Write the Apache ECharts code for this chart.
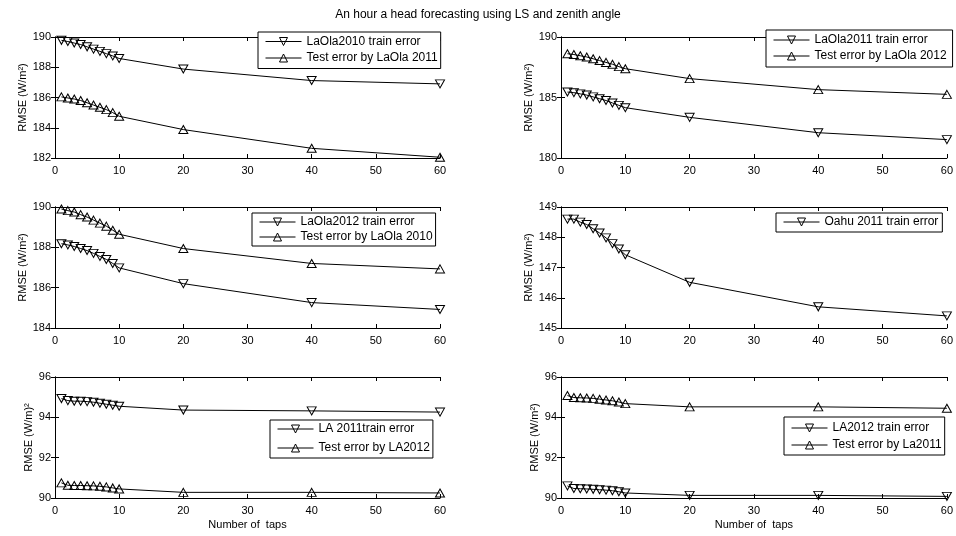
<!DOCTYPE html>
<html><head><meta charset="utf-8">
<script src="https://cdn.jsdelivr.net/npm/echarts@6/dist/echarts.min.js"></script>
<style>html,body{margin:0;padding:0;background:#fff}#c{width:956px;height:536px}</style>
</head><body><div id="c"></div>
<script>
// ---- data ----
const taps = [1,2,3,4,5,6,7,8,9,10,20,40,60];
const xTickMin = 0, xTickMax = 60, xTickStep = 10;

const laola2010Train = [189.78,189.7,189.6,189.5,189.35,189.2,189.05,188.9,188.75,188.58,187.88,187.12,186.9];
const laola2011Test  = [186.04,185.97,185.9,185.8,185.65,185.5,185.35,185.2,185.0,184.76,183.88,182.64,182.05];

const laola2011Train = [185.45,185.4,185.3,185.2,185.05,184.9,184.75,184.55,184.35,184.16,183.36,182.09,181.52];
const laola2012Test  = [188.62,188.55,188.45,188.35,188.2,188.05,187.9,187.75,187.55,187.38,186.56,185.65,185.26];

const laola2012Train = [188.18,188.12,188.04,187.94,187.84,187.7,187.55,187.4,187.2,186.98,186.2,185.26,184.92];
const laola2010Test  = [189.9,189.82,189.75,189.62,189.5,189.35,189.2,189.05,188.85,188.65,187.94,187.2,186.93];

const oahu2011Train  = [148.6,148.6,148.5,148.42,148.28,148.14,147.98,147.79,147.61,147.42,146.51,145.7,145.4];

const la2011Train    = [94.93,94.83,94.8,94.8,94.78,94.75,94.7,94.65,94.6,94.55,94.36,94.32,94.26];
const la2012Test     = [90.75,90.63,90.62,90.62,90.61,90.6,90.58,90.55,90.5,90.45,90.28,90.28,90.25];

const la2012Train    = [90.6,90.47,90.46,90.45,90.43,90.41,90.39,90.36,90.31,90.25,90.13,90.13,90.08];
const la2011Test     = [95.08,94.98,94.97,94.96,94.94,94.9,94.86,94.82,94.76,94.68,94.52,94.52,94.45];

const yTicks1 = [182,190,2];
const yTicks2 = [180,190,5];
const yTicks3 = [184,190,2];
const yTicks4 = [145,149,1];
const yTicks5 = [90,96,2];
const yTicks6 = [90,96,2];

const titleText = 'An hour a head forecasting using LS and zenith angle';
const yName = 'RMSE (W/m\u00B2)';
const yNameLA = 'RMSE (W/m)\u00B2';
const xName = 'Number of  taps';

// ---- layout ----
const FONT = 'Liberation Sans, Arial, Helvetica, sans-serif';
const L = {left:55, width:385}, R = {left:561, width:387};
const rows = [37, 207, 377], H = 121;

const panels = [
  {g:{...L, top:rows[0]}, y:yTicks1, yn:yName, ng:27, lg:{left:258, top:32, pad:[3.5,3,4.5,7], gap:4.5},
   s:[{name:'LaOla2010 train error', d:laola2010Train, down:true},{name:'Test error by LaOla 2011', d:laola2011Test, down:false}]},
  {g:{...R, top:rows[0]}, y:yTicks2, yn:yName, ng:27, lg:{left:766, top:30, pad:[4,6,5,7], gap:4},
   s:[{name:'LaOla2011 train error', d:laola2011Train, down:true},{name:'Test error by LaOla 2012', d:laola2012Test, down:false}]},
  {g:{...L, top:rows[1]}, y:yTicks3, yn:yName, ng:27, lg:{left:252, top:213, pad:[3,3,3,7], gap:3},
   s:[{name:'LaOla2012 train error', d:laola2012Train, down:true},{name:'Test error by LaOla 2010', d:laola2010Test, down:false}]},
  {g:{...R, top:rows[1]}, y:yTicks4, yn:yName, ng:27, lg:{left:776, top:213, pad:[3,4,4,7], gap:3},
   s:[{name:'Oahu 2011 train error', d:oahu2011Train, down:true}]},
  {g:{...L, top:rows[2]}, y:yTicks5, yn:yNameLA, ng:21, xn:true, lg:{left:270, top:420, pad:[3,3,4,7], gap:7},
   s:[{name:'LA 2011train error', d:la2011Train, down:true},{name:'Test error by LA2012', d:la2012Test, down:false}]},
  {g:{...R, top:rows[2]}, y:yTicks6, yn:yName, ng:21, xn:true, lg:{left:784, top:417, pad:[5,3,4,7], gap:5},
   s:[{name:'LA2012 train error', d:la2012Train, down:true},{name:'Test error by La2011', d:la2011Test, down:false}]}
];

const grid = [], xAxis = [], yAxis = [], series = [], legend = [];
const axisLine = {show:true, lineStyle:{color:'#000', width:1}};
const tick = {show:true, inside:true, length:4, lineStyle:{color:'#000', width:1}};
const lbl = {color:'#000', fontSize:11, fontFamily:FONT};

panels.forEach((p, i) => {
  grid.push({left:p.g.left, top:p.g.top, width:p.g.width, height:H, containLabel:false});
  xAxis.push({type:'value', gridIndex:i, position:'bottom', min:xTickMin, max:xTickMax, interval:xTickStep,
    axisLine, axisTick:tick, splitLine:{show:false}, axisLabel:{...lbl, margin:7},
    name: p.xn ? xName : '', nameLocation:'middle', nameGap:21, nameTextStyle:{...lbl}});
  xAxis.push({type:'value', gridIndex:i, position:'top', min:xTickMin, max:xTickMax, interval:xTickStep,
    axisLine, axisTick:tick, splitLine:{show:false}, axisLabel:{show:false}});
  yAxis.push({type:'value', gridIndex:i, position:'left', min:p.y[0], max:p.y[1], interval:p.y[2],
    axisLine, axisTick:tick, splitLine:{show:false}, axisLabel:{...lbl, margin:4},
    name:p.yn, nameLocation:'middle', nameGap:p.ng, nameRotate:90, nameTextStyle:{...lbl}});
  yAxis.push({type:'value', gridIndex:i, position:'right', min:p.y[0], max:p.y[1], interval:p.y[2],
    axisLine, axisTick:tick, splitLine:{show:false}, axisLabel:{show:false}});
  p.s.forEach(s => {
    series.push({type:'line', name:s.name, xAxisIndex:2*i, yAxisIndex:2*i,
      data: taps.map((x,k)=>[x, s.d[k]]),
      symbol:'triangle', symbolRotate: s.down ? 180 : 0, symbolSize:[9,8], showSymbol:true,
      lineStyle:{color:'#000', width:1}, itemStyle:{color:'rgba(255,255,255,0)', borderColor:'#000', borderWidth:1},
      emphasis:{disabled:true}, animation:false, clip:false});
  });
  legend.push({data:p.s.map(s=>s.name), orient:'vertical', left:p.lg.left, top:p.lg.top,
    padding:p.lg.pad, itemGap:p.lg.gap, itemWidth:36, itemHeight:10, selectedMode:false,
    backgroundColor:'#fff', borderColor:'#000', borderWidth:1, borderRadius:0,
    lineStyle:{width:1, color:'#000'}, itemStyle:{borderWidth:1, borderColor:'#000', color:'rgba(255,255,255,0)'},
    textStyle:{...lbl, fontSize:12, lineHeight:12}});
});

const chart = echarts.init(document.getElementById('c'), null, {renderer:'canvas'});
chart.setOption({
  backgroundColor:'#fff',
  animation:false,
  title:{text:titleText, left:'center', top:4, textStyle:{color:'#000', fontSize:12, fontWeight:'normal', fontFamily:FONT}},
  grid, xAxis, yAxis, series, legend
});
</script></body></html>
